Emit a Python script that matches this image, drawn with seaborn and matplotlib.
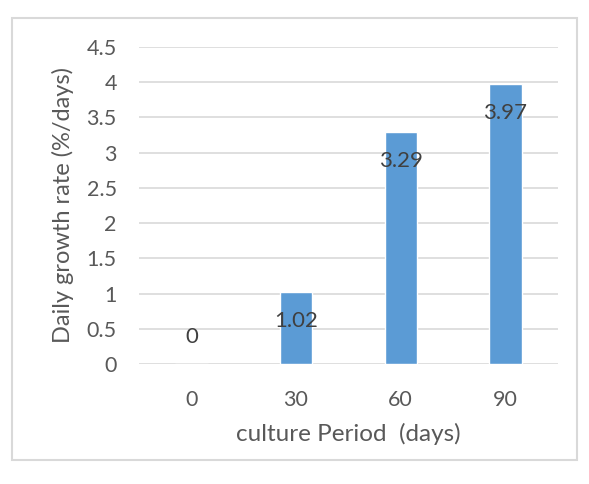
import matplotlib
matplotlib.use("Agg")
import matplotlib.pyplot as plt
import seaborn as sns
import pandas as pd
from matplotlib.patches import Rectangle

# данные
periods = ["0", "30", "60", "90"]
growth_rate = [0, 1.02, 3.29, 3.97]
value_labels = ["0", "1.02", "3.29", "3.97"]
y_ticks = [0, 0.5, 1, 1.5, 2, 2.5, 3, 3.5, 4, 4.5]
y_tick_labels = ["0", "0.5", "1", "1.5", "2", "2.5", "3", "3.5", "4", "4.5"]

sns.set_style("white")
plt.rcParams["font.family"] = ["Lato", "DejaVu Sans"]

df = pd.DataFrame({"period": periods, "rate": growth_rate})

fig = plt.figure(figsize=(5.89, 4.84), dpi=100)
ax = fig.add_axes([0.236, 0.248, 0.711, 0.655])

sns.barplot(data=df, x="period", y="rate", color="#5B9BD5", saturation=1,
            width=0.31, ax=ax, zorder=3)

ax.set_ylim(0, 4.5)
ax.set_yticks(y_ticks)
ax.set_yticklabels(y_tick_labels)
ax.grid(axis="y", color="#D9D9D9", linewidth=1.2, zorder=0)
ax.set_axisbelow(True)
for s in ax.spines.values():
    s.set_visible(False)
ax.tick_params(length=0, labelsize=15.5, colors="#595959")
ax.tick_params(axis="y", pad=16)
ax.tick_params(axis="x", pad=19)

ax.set_xlabel("culture Period  (days)", fontsize=17.5, color="#595959", labelpad=9)
ax.set_ylabel("Daily growth rate (%/days)", fontsize=17, color="#595959", labelpad=9)

# подписи значений
for i, (v, lab) in enumerate(zip(growth_rate, value_labels)):
    off = -20.5 if v > 0 else 19.5
    ax.annotate(lab, (i, v), xytext=(0, off), textcoords="offset points",
                ha="center", va="center", fontsize=16, color="#404040", zorder=5)

# рамка
fig.patches.append(Rectangle((12 / 589, 24 / 484), 565 / 589, 442 / 484,
                             transform=fig.transFigure, fill=False,
                             edgecolor="#D9D9D9", linewidth=1.5))

plt.savefig("out.png", dpi=100)
